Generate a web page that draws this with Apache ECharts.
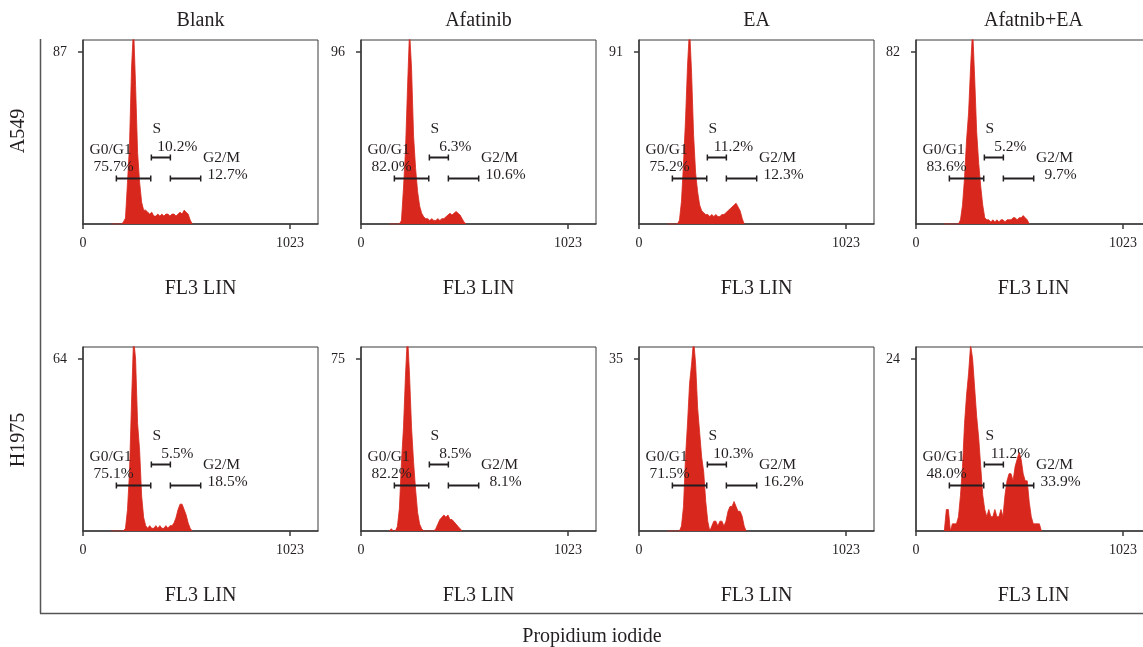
<!DOCTYPE html>
<html>
<head>
<meta charset="utf-8" />
<title>Cell cycle</title>
<script src="https://cdn.jsdelivr.net/npm/echarts@6/dist/echarts.min.js"></script>
<style>
  body { margin: 0; background: #fff; }
  #main { width: 1143px; height: 647px; }
</style>
</head>
<body>
<div id="main"></div>
<script type="text/javascript">
// histogram bins: channel = BIN_START + i * BIN_WIDTH
var BIN_START = 140, BIN_WIDTH = 10;

var columns = ['Blank', 'Afatinib', 'EA', 'Afatnib+EA'];
var rows = ['A549', 'H1975'];
var peakTicks = [[87, 96, 91, 82], [64, 75, 35, 24]];
var gateNames = ['G0/G1', 'S', 'G2/M'];
var gateBounds = [[165, 335], [338, 432], [432, 582]];

// A549 counts
var a549Blank = [0,0,0,0,0,0,1,3,21,40,79,100,70,36,21,11,7,7,6,5,6,4,4,5,4,5,4,5,5,4,5,5,4,5,6,5,7,6,5,2,0];
var a549Afatinib = [0,0,0,0,0,0,2,20,41,76,108,87,49,31,18,10,6,4,3,3,2,3,2,2,3,2,3,3,4,5,6,5,6,7,6,5,3,1,0];
var a549EA = [0,0,0,0,0,0,2,12,32,55,84,104,80,47,27,17,10,7,6,5,5,4,5,4,5,4,4,5,5,6,7,8,9,10,11,9,7,3,0];
var a549Combo = [0,0,0,0,0,0,0,0,2,9,22,40,53,75,93,70,44,29,18,9,3,2,2,1,2,1,2,1,2,2,1,2,2,2,3,3,2,3,3,4,3,2,0];
// H1975 counts
var h1975Blank = [0,0,0,0,0,0,0,1,8,22,48,72,64,40,30,13,5,2,1,2,1,1,2,1,2,1,1,2,1,2,2,3,5,8,10,10,8,6,3,1,0];
var h1975Afatinib = [0,1,0,0,2,10,30,45,68,86,68,45,30,18,8,3,1,0,0,0,0,0,0,1,3,5,6,7,6,7,5,5,4,3,2,1,0];
var h1975EA = [0,0,0,0,0,0,0,1,5,15,22,30,34,39,34,25,20,15,12,6,2,0,1,2,2,1,2,2,1,2,4,5,5,6,5,4,4,3,1,0];
var h1975Combo = [0,3,3,0,1,1,1,2,5,9,15,19,22,26,24,20,16,13,9,5,3,2,3,2,2,3,2,2,3,2,5,7,8,8,7,9,10,11,10,8,7,7,4,2,1,1,1,1,0];

var a549Pct = [[75.7, 10.2, 12.7], [82.0, 6.3, 10.6], [75.2, 11.2, 12.3], [83.6, 5.2, 9.7]];
var h1975Pct = [[75.1, 5.5, 18.5], [82.2, 8.5, 8.1], [71.5, 10.3, 16.2], [48.0, 11.2, 33.9]];

var histograms = [[a549Blank, a549Afatinib, a549EA, a549Combo], [h1975Blank, h1975Afatinib, h1975EA, h1975Combo]];
var percents = [a549Pct, h1975Pct];

// layout
var colLeft = [83, 361, 639, 916];
var rowTop = [40, 347];
var gridW = 235, gridH = 184;
var XMAX = 1162;
var gateHeight = [0.25, 0.364, 0.25];
var nameOff = [[-23, -28.5], [-4, -29], [36, -20.5]];
var pctOff = [[-20, -12], [16.5, -11], [42, -4]];
var RED = '#d8271d';
var INK = '#231f20';
var SERIF = '"Liberation Serif", "DejaVu Serif", serif';

var myChart = echarts.init(document.getElementById('main'));

var grid = [], xAxis = [], yAxis = [], series = [], title = [];

function toPairs(arr) {
  return arr.map(function (v, i) { return [BIN_START + i * BIN_WIDTH, v]; });
}

function gateRenderer(pct) {
  return function (params, api) {
    var cs = params.coordSys;
    var i = params.dataIndex;
    var x1 = api.coord([api.value(0), 0])[0];
    var x2 = api.coord([api.value(1), 0])[0];
    var y = Math.round(cs.y + cs.height * (1 - gateHeight[i])) + 0.5;
    var cx = (x1 + x2) / 2;
    var ls = { stroke: INK, lineWidth: 2 };
    return {
      type: 'group',
      children: [
        { type: 'line', shape: { x1: x1, y1: y, x2: x2, y2: y }, style: ls },
        { type: 'line', shape: { x1: x1, y1: y - 3, x2: x1, y2: y + 3 }, style: { stroke: INK, lineWidth: 1.5 } },
        { type: 'line', shape: { x1: x2, y1: y - 3, x2: x2, y2: y + 3 }, style: { stroke: INK, lineWidth: 1.5 } },
        { type: 'text', style: { text: gateNames[i], x: cx + nameOff[i][0], y: y + nameOff[i][1],
            fill: INK, font: '15.5px ' + SERIF, align: 'center', verticalAlign: 'middle' } },
        { type: 'text', style: { text: pct[i].toFixed(1) + '%', x: cx + pctOff[i][0], y: y + pctOff[i][1],
            fill: INK, font: '15.5px ' + SERIF, align: 'center', verticalAlign: 'middle' } }
      ]
    };
  };
}

for (var r = 0; r < 2; r++) {
  for (var c = 0; c < 4; c++) {
    var k = r * 4 + c;
    var tick = peakTicks[r][c];
    grid.push({ left: colLeft[c], top: rowTop[r], width: gridW, height: gridH,
      outerBoundsMode: 'none', containLabel: false,
      show: true, borderColor: '#3a3a3a', borderWidth: 1, backgroundColor: 'transparent' });
    xAxis.push({
      type: 'value', gridIndex: k, min: 0, max: XMAX,
      name: 'FL3 LIN', nameLocation: 'middle', nameGap: 55,
      nameTextStyle: { fontFamily: SERIF, fontSize: 20, color: INK },
      axisLine: { show: true, lineStyle: { color: '#3a3a3a', width: 1.5 } },
      axisTick: { show: true, customValues: [0, 1023], length: 5, lineStyle: { color: '#3a3a3a', width: 1.5 } },
      axisLabel: { customValues: [0, 1023], margin: 12, fontFamily: SERIF, fontSize: 14, color: INK,
        formatter: function (v) { return String(v); } },
      splitLine: { show: false }
    });
    yAxis.push({
      type: 'value', gridIndex: k, min: 0, max: tick * 1.07,
      axisLine: { show: true, lineStyle: { color: '#3a3a3a', width: 1.5 } },
      axisTick: { show: true, customValues: [tick], length: 5, lineStyle: { color: '#3a3a3a', width: 1.5 } },
      axisLabel: { customValues: [tick], margin: 16, fontFamily: SERIF, fontSize: 14, color: INK,
        formatter: function (v) { return String(v); } },
      splitLine: { show: false }
    });
    series.push({
      type: 'line', xAxisIndex: k, yAxisIndex: k,
      data: toPairs(histograms[r][c]),
      showSymbol: false, clip: true,
      lineStyle: { color: RED, width: 0.8 },
      areaStyle: { color: RED, opacity: 1 },
      silent: true, z: 2
    });
    series.push({
      type: 'custom', xAxisIndex: k, yAxisIndex: k,
      data: gateBounds.map(function (g, i) { return [g[0], g[1], gateHeight[i]]; }),
      renderItem: gateRenderer(percents[r][c]),
      silent: true, z: 5
    });
  }
}

columns.forEach(function (name, c) {
  title.push({ text: name, left: colLeft[c] + gridW / 2 - 5, top: 6, textAlign: 'center',
    textStyle: { fontFamily: SERIF, fontSize: 20, fontWeight: 'normal', color: INK } });
});

myChart.setOption({
  animation: false,
  title: title,
  grid: grid,
  xAxis: xAxis,
  yAxis: yAxis,
  series: series,
  graphic: [
    { type: 'line', shape: { x1: 40.5, y1: 39, x2: 40.5, y2: 613.5 }, style: { stroke: '#555', lineWidth: 1.5 } },
    { type: 'line', shape: { x1: 40, y1: 613.5, x2: 1143, y2: 613.5 }, style: { stroke: '#555', lineWidth: 1.5 } },
    { type: 'text', x: 19, y: 131, rotation: Math.PI / 2,
      style: { text: rows[0], fill: INK, font: '20px ' + SERIF, align: 'center', verticalAlign: 'middle' } },
    { type: 'text', x: 19, y: 440, rotation: Math.PI / 2,
      style: { text: rows[1], fill: INK, font: '20px ' + SERIF, align: 'center', verticalAlign: 'middle' } },
    { type: 'text', x: 592, y: 637,
      style: { text: 'Propidium iodide', fill: INK, font: '20px ' + SERIF, align: 'center', verticalAlign: 'middle' } }
  ]
});
</script>
</body>
</html>
